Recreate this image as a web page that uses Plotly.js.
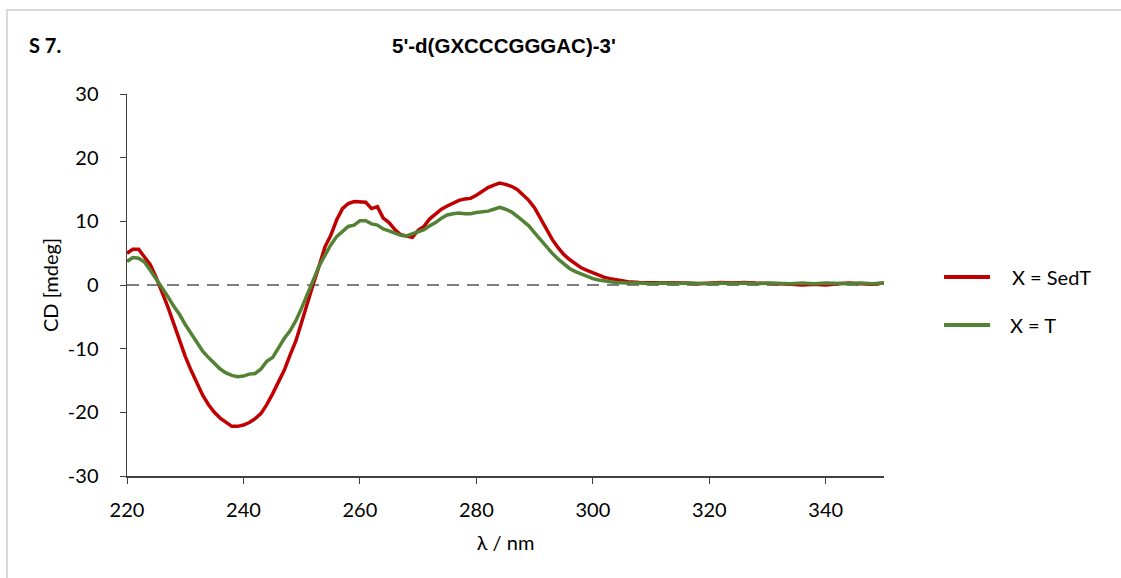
<!DOCTYPE html>
<html>
<head>
<meta charset="utf-8">
<script src="https://cdn.plot.ly/plotly-3.0.1.min.js"></script>
<style>
  html, body { margin: 0; padding: 0; background: #fff; }
  #wrap { position: relative; width: 1121px; height: 578px; overflow: hidden; }
  #frame { position: absolute; left: 6px; top: 9px; width: 1200px; height: 700px;
           border-top: 2px solid #d9d9d9; border-left: 2px solid #d9d9d9; pointer-events: none; }
  #chart { position: absolute; left: 0; top: 0; width: 1121px; height: 578px; }
</style>
</head>
<body>
<div id="wrap">
  <div id="chart"></div>
  <div id="frame"></div>
</div>
<script>
// wavelength grid (nm)
const wavelength = [220,221,222,223,224,225,226,227,228,229,230,231,232,233,234,235,236,237,238,239,
  240,241,242,243,244,245,246,247,248,249,250,251,252,253,254,255,256,257,258,259,
  260,261,262,263,264,265,266,267,268,269,270,271,272,273,274,275,276,277,278,279,
  280,281,282,283,284,285,286,287,288,289,290,291,292,293,294,295,296,297,298,299,
  300,301,302,303,304,305,306,308,310,312,314,316,318,320,322,324,326,328,330,332,
  334,336,338,340,342,344,346,348,350];

// CD signal, X = SedT (mdeg)
const cdSedT = [5.0,5.6,5.6,4.5,3.2,1.2,-1.0,-3.4,-6.0,-8.8,-11.2,-13.4,-15.5,-17.3,-18.8,-20.0,-20.9,-21.6,-22.2,-22.2,
  -22.0,-21.6,-21.0,-20.2,-18.8,-17.1,-15.2,-13.4,-11.0,-8.8,-5.8,-2.6,0.2,3.0,6.0,7.8,10.2,12.0,12.8,13.1,
  13.1,13.0,12.0,12.3,10.5,9.8,8.7,7.9,7.7,7.5,8.6,9.2,10.4,11.2,11.9,12.4,12.8,13.3,13.5,13.6,
  14.1,14.7,15.3,15.7,16.0,15.8,15.5,15.0,14.2,13.3,12.1,10.4,8.7,7.2,5.9,4.8,4.0,3.3,2.7,2.3,
  1.9,1.5,1.2,1.0,0.8,0.6,0.5,0.4,0.4,0.3,0.3,0.3,0.2,0.3,0.4,0.3,0.4,0.3,0.3,0.2,
  0.1,0.0,0.1,0.0,0.2,0.3,0.2,0.1,0.3];

// CD signal, X = T (mdeg)
const cdT = [3.7,4.3,4.2,3.6,2.3,1.0,-0.4,-1.8,-3.3,-4.6,-6.2,-7.6,-9.2,-10.4,-11.4,-12.4,-13.2,-13.8,-14.2,-14.4,
  -14.3,-14.0,-13.9,-13.2,-12.0,-11.4,-9.8,-8.4,-7.2,-5.6,-3.6,-1.4,0.9,3.0,4.7,6.3,7.6,8.4,9.2,9.4,
  10.1,10.1,9.6,9.4,8.8,8.5,8.2,7.8,7.7,8.0,8.3,8.7,9.3,9.8,10.5,11.0,11.2,11.3,11.2,11.2,
  11.4,11.5,11.6,11.9,12.2,11.9,11.5,10.8,10.1,9.3,8.2,7.1,6.0,5.0,4.1,3.3,2.6,2.1,1.7,1.3,
  1.0,0.8,0.6,0.5,0.4,0.3,0.3,0.3,0.2,0.3,0.2,0.3,0.2,0.2,0.3,0.2,0.3,0.2,0.3,0.2,
  0.2,0.3,0.2,0.3,0.2,0.2,0.3,0.2,0.3];

const seriesNames = ['X = SedT', 'X = T'];
const seriesColors = ['#c00000', '#548235'];
const xTicks = [220,240,260,280,300,320,340];
const yTicks = [-30,-20,-10,0,10,20,30];
const yTickText = ['-30','-20','-10','0','10','20','30'];

const baseFamily = 'Lato, "Open Sans", sans-serif';
const tickFont = {family: baseFamily, size: 20, color: '#000'};

const traces = seriesNames.map((nm, i) => ({
  x: wavelength, y: i === 0 ? cdSedT : cdT, type: 'scatter', mode: 'lines', name: nm,
  showlegend: false, line: {color: seriesColors[i], width: 3.5}
}));

// custom legend (long line samples like the reference)
const legendY = [0.521, 0.395];
const legendShapes = seriesNames.map((nm, i) => ({
  type: 'line', xref: 'paper', yref: 'paper', x0: 1.0793, x1: 1.140, y0: legendY[i], y1: legendY[i],
  line: {color: seriesColors[i], width: 4}
}));
const legendText = seriesNames.map((nm, i) => ({
  text: nm, xref: 'paper', yref: 'paper', x: i === 0 ? 1.167 : 1.164, y: legendY[i],
  xanchor: 'left', yanchor: 'middle', showarrow: false, font: {family: baseFamily, size: 20, color: '#000'}
}));

const layout = {
  width: 1121, height: 578,
  margin: {l: 127, r: 237, t: 94, b: 102},
  paper_bgcolor: '#fff', plot_bgcolor: '#fff',
  showlegend: false,
  xaxis: {range: [220, 350], tickvals: xTicks, ticks: 'outside', ticklen: 6, tickcolor: '#404040',
          showline: true, linecolor: '#404040', linewidth: 1.5, showgrid: false, zeroline: false,
          tickfont: tickFont, fixedrange: true, ticklabelstandoff: 9,
          title: {text: 'λ / nm', font: tickFont, standoff: 16}},
  yaxis: {range: [-30, 30], tickvals: yTicks, ticktext: yTickText, ticks: 'outside', ticklen: 6,
          tickcolor: '#404040', showline: true, linecolor: '#404040', linewidth: 1.5,
          showgrid: false, zeroline: false, tickfont: tickFont, fixedrange: true, ticklabelstandoff: 17,
          title: {text: 'CD [mdeg]', font: tickFont, standoff: 4}},
  shapes: [
    {type: 'line', xref: 'paper', yref: 'y', x0: 0, x1: 1, y0: 0, y1: 0,
     line: {color: '#7f7f7f', width: 2, dash: '12px,8px'}, layer: 'below'}
  ].concat(legendShapes),
  annotations: [
    {text: "<b>5'-d(GXCCCGGGAC)-3'</b>", xref: 'paper', yref: 'paper', x: 0.4985, y: 1, yshift: 49,
     xanchor: 'center', yanchor: 'middle', showarrow: false,
     font: {family: '"Liberation Sans", Arial, sans-serif', size: 20.5, color: '#000'}},
    {text: '<b>S 7.</b>', xref: 'paper', yref: 'paper', x: 0, y: 1, xshift: -100, yshift: 49,
     xanchor: 'left', yanchor: 'middle', showarrow: false,
     font: {family: baseFamily, size: 20, color: '#000'}}
  ].concat(legendText)
};

Plotly.newPlot('chart', traces, layout, {displayModeBar: false, staticPlot: true});
</script>
</body>
</html>
